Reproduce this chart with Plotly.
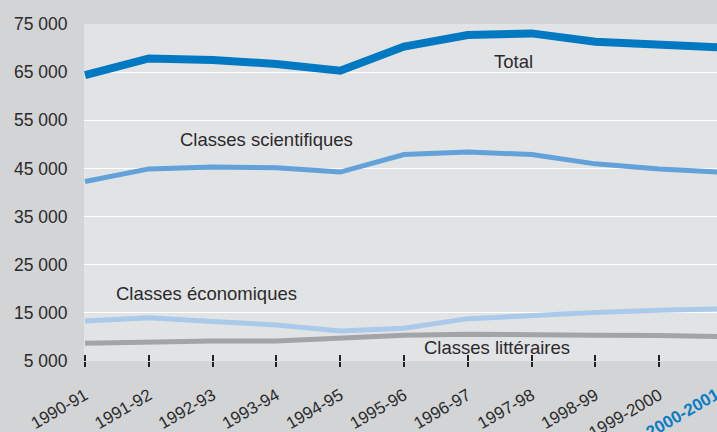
import plotly.graph_objects as go

categories = ["1990-91", "1991-92", "1992-93", "1993-94", "1994-95", "1995-96",
              "1996-97", "1997-98", "1998-99", "1999-2000", "2000-2001"]
total = [64400, 67850, 67500, 66700, 65300, 70300, 72700, 73050, 71300, 70750, 70100]
scientifiques = [42300, 44900, 45300, 45150, 44250, 47900, 48400, 47900, 45950, 44900, 44200]
economiques = [13300, 14000, 13200, 12500, 11250, 11800, 13800, 14550, 15050, 15550, 15800]
litteraires = [8700, 9000, 9150, 9150, 9700, 10350, 10550, 10550, 10350, 10280, 10070]
y_ticks = [5000, 15000, 25000, 35000, 45000, 55000, 65000, 75000]

series = [
    ("Total", total, "#0079c2", 8),
    ("Classes scientifiques", scientifiques, "#62a1d9", 5),
    ("Classes économiques", economiques, "#abc9eb", 5),
    ("Classes littéraires", litteraires, "#a3a4a8", 5),
]
labels = [
    ("Total", 6.71, 67300),
    ("Classes scientifiques", 2.84, 51100),
    ("Classes économiques", 1.91, 19100),
    ("Classes littéraires", 6.46, 7850),
]

idx = list(range(len(categories)))
x_range = [-0.016, 9.906]
last = len(categories) - 1

fig = go.Figure()
for name, vals, color, w in series[::-1]:
    fig.add_trace(go.Scatter(x=idx, y=vals, mode="lines", name=name,
                             line=dict(color=color, width=w), hoverinfo="skip"))
# invisible trace to activate the overlay axis that draws the inner tick halves
fig.add_trace(go.Scatter(x=idx, y=total, xaxis="x2", mode="lines",
                         line=dict(width=0), opacity=0, hoverinfo="skip"))

font = "Liberation Sans, Arial, sans-serif"
for text, x, y in labels:
    fig.add_annotation(x=x, y=y, text=text, showarrow=False,
                       font=dict(family=font, size=18.5, color="#2b2b2b"))

# last category label lies just outside the visible axis range
fig.add_annotation(xref="paper", yref="paper",
                   x=(last - x_range[0]) / (x_range[1] - x_range[0]), y=0,
                   text="<b>" + categories[last] + "</b>", showarrow=False,
                   textangle=-30, xanchor="right", yanchor="top",
                   xshift=2, yshift=-21,
                   font=dict(family=font, size=17, color="#0a7cc4"))

fig.update_layout(
    template="none",
    width=717, height=432,
    margin=dict(l=84, r=0, t=24, b=71, autoexpand=False),
    paper_bgcolor="#d3d4d6",
    plot_bgcolor="#e2e3e5",
    showlegend=False,
    separators=", ",
    font=dict(family=font, size=17, color="#2b2b2b"),
    xaxis=dict(range=x_range, tickmode="array", tickvals=idx[:last], ticktext=categories[:last],
               tickangle=-30, ticks="outside", ticklen=5, tickwidth=1.5, tickcolor="#222222",
               showgrid=False, zeroline=False, showline=False, automargin=False,
               ticklabelstandoff=12,
               tickfont=dict(family=font, size=17, color="#2b2b2b")),
    xaxis2=dict(range=x_range, overlaying="x", anchor="y", side="bottom",
                tickmode="array", tickvals=idx[:last], showticklabels=False,
                ticks="inside", ticklen=6, tickwidth=1.5, tickcolor="#222222",
                showgrid=False, zeroline=False, showline=False, automargin=False),
    yaxis=dict(range=[5000, 75000], tickvals=y_ticks, tickformat=",d",
               showgrid=True, gridcolor="#ffffff", gridwidth=1.2,
               zeroline=False, showline=False, automargin=False,
               ticks="outside", ticklen=12, tickcolor="rgba(0,0,0,0)",
               tickfont=dict(family=font, size=17.5, color="#2b2b2b")),
)

fig.write_html(
    "out.html",
    config={"displayModeBar": False},
    post_script="document.body.style.margin='0';document.body.style.background='#d3d4d6';",
)
